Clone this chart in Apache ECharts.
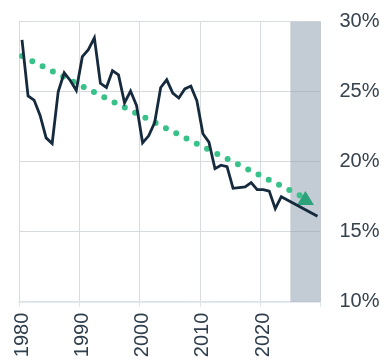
<!DOCTYPE html>
<html>
<head>
<meta charset="utf-8">
<script src="https://cdn.jsdelivr.net/npm/echarts@6/dist/echarts.min.js"></script>
<style>
html,body{margin:0;padding:0;background:#fff;}
#chart{width:384px;height:363px;}
</style>
</head>
<body>
<div id="chart"></div>
<script>
var years = [];
for (var y = 1980; y <= 2029; y++) years.push(String(y));

var rates = [
  28.7, 24.7, 24.4, 23.3, 21.7, 21.3, 25.0, 26.35, 25.8, 25.1,
  27.5, 28.0, 28.85, 25.6, 25.3, 26.5, 26.2, 24.2, 25.05, 24.0,
  21.35, 21.85, 22.8, 25.3, 25.85, 24.9, 24.55, 25.2, 25.4, 24.35,
  22.0, 21.4, 19.5, 19.75, 19.65, 18.1, 18.15, 18.2, 18.5, 18.0,
  18.0, 17.9, 16.65, 17.5, 17.27, 17.03, 16.8, 16.57, 16.33, 16.1
];

var trendYears = ['1980', '2027'];
var trendValues = [27.55, 17.4];

var projectionRange = [2025, 2030];
var yTicks = [10, 15, 20, 25, 30];

var chart = echarts.init(document.getElementById('chart'), null, {renderer: 'canvas'});

var trendData = [
  {value: [trendYears[0], trendValues[0]], symbol: 'none'},
  {value: [trendYears[1], trendValues[1]]}
];

chart.setOption({
  animation: false,
  backgroundColor: '#ffffff',
  grid: {left: 19, right: 63.5, top: 21.7, bottom: 61.3, containLabel: false},
  xAxis: [{
    type: 'category',
    data: years,
    boundaryGap: true,
    axisLine: {show: true, lineStyle: {color: '#dde4ea', width: 1.5}},
    axisTick: {show: true, interval: function (i) { return i % 10 === 0; }, length: 5, lineStyle: {color: '#dde4ea'}},
    splitLine: {show: true, interval: function (i) { return i % 10 === 0; }, lineStyle: {color: '#d6dbe0', width: 1}},
    axisLabel: {
      interval: function (i) { return i % 10 === 0; },
      rotate: 90, margin: 11, fontSize: 20, color: '#2f3e4c', padding: [6, 0, 0, 0],
      fontFamily: 'Liberation Sans, Arial, sans-serif'
    }
  }, {
    type: 'value', min: projectionRange[0] - 45, max: projectionRange[1], show: false
  }],
  yAxis: {
    type: 'value', position: 'right', min: yTicks[0], max: yTicks[yTicks.length - 1], interval: 5,
    axisLine: {show: false}, axisTick: {show: false},
    splitLine: {show: true, lineStyle: {color: '#d6dbe0', width: 1}},
    axisLabel: {formatter: '{value}%', fontSize: 20, margin: 19, color: '#36424e',
      fontFamily: 'Liberation Sans, Arial, sans-serif'}
  },
  series: [{
    type: 'line', xAxisIndex: 1, data: [], silent: true,
    markArea: {silent: true, itemStyle: {color: 'rgba(140,156,172,0.52)'},
      data: [[{xAxis: projectionRange[0]}, {xAxis: projectionRange[1]}]]}
  }, {
    type: 'line', data: trendData, z: 3,
    symbol: 'triangle', symbolSize: [17, 14], showSymbol: true, showAllSymbol: true,
    lineStyle: {color: '#38c289', width: 6, type: [0, 11.5], cap: 'round'},
    itemStyle: {color: '#2ca27a', borderWidth: 0}
  }, {
    type: 'line', data: rates, symbol: 'none', z: 4,
    lineStyle: {color: '#162a3e', width: 2.8, join: 'miter'}
  }]
});
</script>
</body>
</html>
